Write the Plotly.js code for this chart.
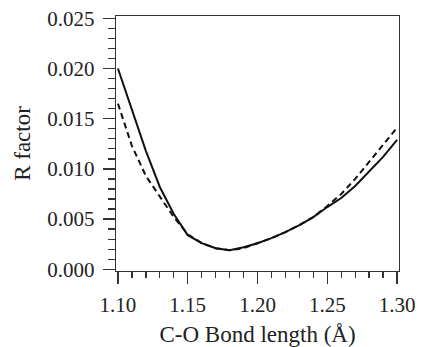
<!DOCTYPE html>
<html>
<head>
<meta charset="utf-8">
<script src="https://cdn.plot.ly/plotly-3.0.1.min.js"></script>
<style>html,body{margin:0;padding:0;background:#fff;}#chart{width:421px;height:347px;}</style>
</head>
<body>
<div id="chart"></div>
<script>
const bondLength = [1.10,1.11,1.12,1.13,1.14,1.15,1.16,1.17,1.18,1.19,1.20,1.21,1.22,1.23,1.24,1.25,1.26,1.27,1.28,1.29,1.30];
const rSolid  = [0.0200,0.0159,0.0118,0.0082,0.0055,0.0034,0.0026,0.0021,0.0019,0.0022,0.0026,0.0031,0.0037,0.0044,0.0052,0.0062,0.0071,0.0083,0.0097,0.0112,0.0129];
const rDashed = [0.0165,0.0123,0.0093,0.0072,0.0052,0.0035,0.0026,0.0021,0.0019,0.0021,0.0026,0.0031,0.0037,0.0044,0.0052,0.0063,0.0075,0.0090,0.0107,0.0124,0.0141];
const xTitle = "C-O Bond length (Å)";
const yTitle = "R factor";

const font = "Liberation Serif, Times New Roman, serif";
const traces = [
  {x: bondLength, y: rSolid, mode: 'lines', line: {color: '#111', width: 2}, hoverinfo: 'skip'},
  {x: bondLength, y: rDashed, mode: 'lines', line: {color: '#111', width: 2, dash: '6px,4px'}, hoverinfo: 'skip'}
];
const axisCommon = {
  showline: true, linecolor: '#333', linewidth: 1.3, mirror: true,
  showgrid: false, zeroline: false,
  ticks: 'outside', ticklen: 12, tickwidth: 1.3, tickcolor: '#333',
  tickfont: {family: font, size: 21, color: '#222'}
};
const layout = {
  width: 421, height: 347,
  margin: {l: 116, r: 22, t: 16, b: 76},
  paper_bgcolor: '#fff', plot_bgcolor: '#fff',
  showlegend: false,
  xaxis: Object.assign({}, axisCommon, {
    range: [1.0986, 1.3014], tickvals: [1.10,1.15,1.20,1.25,1.30], tickformat: '.2f',
    ticklabelstandoff: 2,
    minor: {dtick: 0.01, tick0: 1.10, ticks: 'outside', ticklen: 6, tickwidth: 1.3, tickcolor: '#333', showgrid: false},
    title: {text: xTitle, font: {family: font, size: 23, color: '#222'}, standoff: 11}
  }),
  yaxis: Object.assign({}, axisCommon, {
    range: [-0.00017, 0.02523], tickvals: [0,0.005,0.010,0.015,0.020,0.025], tickformat: '.3f',
    ticklabelstandoff: 4,
    minor: {dtick: 0.001, tick0: 0, ticks: 'outside', ticklen: 7, tickwidth: 1.3, tickcolor: '#333', showgrid: false},
    title: {text: yTitle, font: {family: font, size: 23, color: '#222'}, standoff: 10}
  })
};
Plotly.newPlot('chart', traces, layout, {staticPlot: true, displayModeBar: false});
</script>
</body>
</html>
